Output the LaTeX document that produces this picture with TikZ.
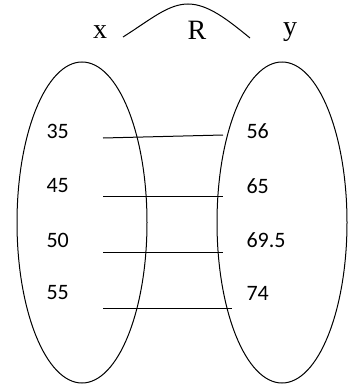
\documentclass[tikz,border=0pt]{standalone}
\usepackage{fontspec}
\setmainfont{Liberation Serif}
\newfontfamily\numfont{Carlito}
\usetikzlibrary{shapes.geometric}
\tikzset{
  setbox/.style={draw, ellipse, minimum width=130*0.75pt, minimum height=321*0.75pt, inner sep=0pt},
  setlabel/.style={font=\fontsize{21}{24}\selectfont},
  numlabel/.style={anchor=west, inner sep=0pt, font=\numfont\fontsize{16.5}{19}\selectfont}
}
\begin{document}
\begin{tikzpicture}[x=0.75pt, y=-0.75pt, line width=0.75pt]
\useasboundingbox (0,0) rectangle (359,389);

\node[setbox] (setx) at (82,222.5) {};
\node[setbox] (sety) at (282,222.5) {};

\node[setlabel] (xlab) at (100,32) {x};
\node[setlabel] (rlab) at (197,30) {R};
\node[setlabel] (ylab) at (290,32) {y};

\coordinate (arcstart) at (123,37);
\coordinate (arctop) at (188,4);
\coordinate (arcend) at (250,38);
\draw (arcstart) .. controls (150,20) and (168,4) .. (arctop) .. controls (208,4) and (228,20) .. (arcend);

\node[numlabel] (x35) at (46,131) {35};
\node[numlabel] (x45) at (46,186) {45};
\node[numlabel] (x50) at (46,240) {50};
\node[numlabel] (x55) at (46,293) {55};

\node[numlabel] (y56) at (246,131) {56};
\node[numlabel] (y65) at (246,186) {65};
\node[numlabel] (y69) at (246,240) {69.5};
\node[numlabel] (y74) at (246,293) {74};

% pairs of R
\coordinate (p1a) at (103,138);
\coordinate (p1b) at (223,135);
\coordinate (p2a) at (103,196.5);
\coordinate (p2b) at (223,196.5);
\coordinate (p3a) at (103,252.3);
\coordinate (p3b) at (223,252.3);
\coordinate (p4a) at (103,308.3);
\coordinate (p4b) at (232,308.3);

\draw (p1a) -- (p1b);
\draw (p2a) -- (p2b);
\draw (p3a) -- (p3b);
\draw (p4a) -- (p4b);
\end{tikzpicture}
\end{document}
